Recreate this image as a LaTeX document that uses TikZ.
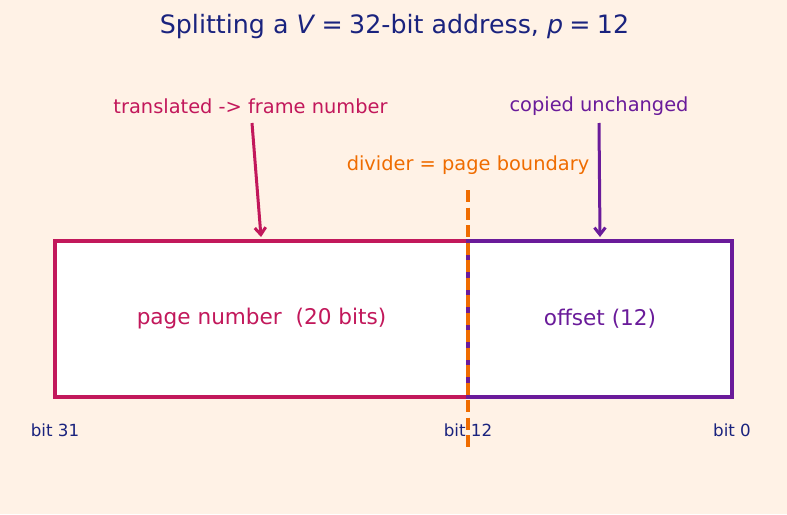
\documentclass[tikz,border=0pt]{standalone}
\usepackage{fontspec}
\setmainfont{DejaVu Sans}
\usetikzlibrary{arrows.meta}
\definecolor{bg}{HTML}{FFF2E6}
\definecolor{crim}{HTML}{C2185B}
\definecolor{purp}{HTML}{6A1B9A}
\definecolor{oran}{HTML}{EF6C00}
\definecolor{navy}{HTML}{1A237E}
\tikzset{
  box/.style={draw, line width=3.6pt, fill=white, inner sep=0pt, outer sep=0pt, minimum height=156pt},
  lbl/.style={inner sep=0pt, font=\fontsize{19.4}{22}\selectfont},
  bitlbl/.style={inner sep=0pt, text=navy, font=\fontsize{16.7}{19}\selectfont},
  arr/.style={line width=3pt, -{Straight Barb[length=7pt,width=11pt,line width=3pt]}},
}
\begin{document}
\begin{tikzpicture}[x=1pt,y=-1pt]
\path[fill=bg] (0,0) rectangle (787,514);
\useasboundingbox (0,0) rectangle (787,514);
\node[inner sep=0pt, text=navy, font=\fontsize{25.3}{28}\selectfont] (title) at (394.5,27)
  {Splitting a \textit{V}\hspace{0.25em}=\hspace{0.25em}32-bit address, \textit{p}\hspace{0.25em}=\hspace{0.25em}12};
\node[box, draw=crim, minimum width=413pt, text=crim, font=\fontsize{21.6}{25}\selectfont] (pn) at (261.5,319) {page number~ (20 bits)};
\node[box, draw=purp, minimum width=264pt, text=purp, font=\fontsize{21.6}{25}\selectfont] (off) at (600,319) {offset (12)};
\node[lbl, text=crim] (tl) at (250.5,106) {translated -> frame number};
\node[lbl, text=purp] (cl) at (599,106) {copied unchanged};
\node[lbl, text=oran] (dl) at (468,165) {divider = page boundary};
\node[bitlbl] (b31) at (55,430) {bit 31};
\node[bitlbl] (b12) at (468,430) {bit 12};
\node[bitlbl] (b0) at (732,430) {bit 0};
\coordinate (dtop) at (468,190);
\coordinate (dbot) at (468,447);
\draw[oran, line width=3.6pt, dash pattern=on 12pt off 5.5pt] (dtop) -- (dbot);
\coordinate (a1s) at (252,123);
\coordinate (a1e) at (261,237);
\coordinate (a2s) at (599,123);
\coordinate (a2e) at (600,237);
\draw[arr, crim] (a1s) -- (a1e);
\draw[arr, purp] (a2s) -- (a2e);
\end{tikzpicture}
\end{document}
